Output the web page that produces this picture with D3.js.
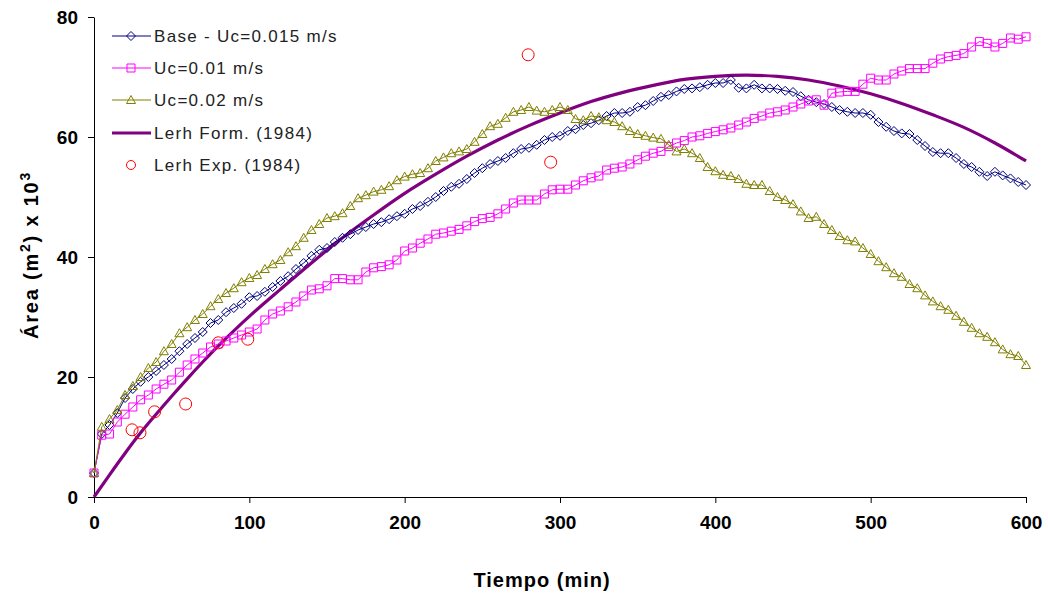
<!DOCTYPE html>
<html><head><meta charset="utf-8">
<script src="https://cdn.jsdelivr.net/npm/d3@7"></script>
<style>
html,body{margin:0;padding:0;background:#fff;}
svg{display:block;font-family:"Liberation Sans",Arial,sans-serif;}
</style></head>
<body><svg id="c" width="1048" height="596"></svg>
<script>
// Sampling times (min)
const tiempo = [0,5,10,15,20,25,30,35,40,45,50,55,60,65,70,75,80,85,90,95,
100,105,110,115,120,125,130,135,140,145,150,155,160,165,170,175,180,185,190,195,
200,205,210,215,220,225,230,235,240,245,250,255,260,265,270,275,280,285,290,295,
300,305,310,315,320,325,330,335,340,345,350,355,360,365,370,375,380,385,390,395,
400,405,410,415,420,425,430,435,440,445,450,455,460,465,470,475,480,485,490,495,
500,505,510,515,520,525,530,535,540,545,550,555,560,565,570,575,580,585,590,595,600];

const base015 = [4,10.5,12,14,16.5,18,19.2,20,21,22,23,24.3,25.5,26.5,27.5,29,29.5,30.8,31.5,32.2,
33.3,33.5,34.2,35,36,36.8,38,39,40.2,41.2,41.5,42.5,43.2,43.8,44.5,45,45.5,45.8,46.3,46.8,
47.2,48,48.5,49.2,50,51,51.7,52.2,53,54,54.8,55.5,56,56.5,57.3,58,58.2,58.7,59.5,60,
60.2,61,61.3,62,62.3,62.8,63.5,64,64,64.2,65,65.3,66,66.7,67,67.6,68,68.1,68.3,68.7,
69,69,69.5,68.2,68.1,68.7,68.1,68.1,68,67.7,67.5,66.8,66.2,65.8,65.5,65,64.5,64.2,64,64,
63.7,62.5,61.7,61,60.6,60.5,59.5,58.5,57.5,57.3,57.3,56.5,55.5,55,54.2,53.5,54.2,53.6,53.1,52.5,52];

const uc001 = [4,10.3,10.5,12.5,13.8,15,16.2,17,18,18.8,19.5,20.8,22,23,24,25,25.5,26,26.5,27,
27.5,28,29.5,30.5,31,31.7,32.5,33.5,34.5,34.7,35.2,36.4,36.4,36.2,36.2,37.5,38.2,38.4,38.7,39.5,
41,41.5,42.3,43,43.8,44,44.3,44.6,45.2,45.9,46.4,46.6,47.2,48,49,49.5,49.5,49.5,50.5,51.2,
51.3,51.3,52,52.7,53.2,53.5,54.5,54.8,55,55.5,56.2,56.8,57.3,57.6,58.4,59,59.4,60,60.2,60.6,
60.9,61.2,61.5,62,62.5,63.1,63.5,64,64.2,64.5,65,65.5,66,66.2,65.3,67.3,67.5,67.6,67.6,68.8,
69.8,69.5,69.5,70.5,71,71.4,71.4,71.4,72.3,73,73.4,73.6,73.9,75,75.9,75.6,75,75.6,76.5,76.3,76.7];

const uc002 = [4,11.7,13,14.5,17,18.5,20,21.5,22.5,24.3,25.5,27.3,28.3,29.5,30.5,31.8,33,34,34.8,35.8,
36.5,37,38,38.8,39.5,40.8,41.8,43.2,44.5,45.5,46.5,46.8,47.3,48.5,49.8,50.3,50.9,51.2,51.8,52.8,
53.4,53.8,54,54.8,56,56.6,57.3,57.6,58,59.2,60.5,61.8,62.2,63.2,64.2,64.5,65,64.4,64.2,64.5,
65,64.5,63,62.8,63.5,63.3,62.8,62.5,61.8,61,60.5,60.2,59.9,59.7,58.7,57.6,58,57.3,56.5,55,
54.3,53.7,53.5,53,52.2,52,52,51,50,49.5,48.8,47.6,46.5,46.7,45.5,44.5,43.5,42.8,42.6,41.5,
40.5,39.3,38.3,37.3,36.7,35.5,34.8,33.6,32.6,31.8,31.2,30.2,29.2,28.2,27.3,26.7,25.8,24.6,23.8,23.5,22];

const lerhFormT = [0,10,20,30,40,50,60,70,80,90,100,120,140,160,180,200,220,240,260,280,300,320,340,360,380,400,420,440,460,480,500,520,540,560,580,600];
const lerhFormV = [0,3.7,7.3,10.7,13.8,16.8,19.7,22.5,25.2,27.7,30.1,34.6,39,43.2,47,50.6,53.8,56.8,59.5,61.9,64,65.9,67.4,68.6,69.6,70.1,70.3,70.1,69.5,68.5,67.2,65.6,63.7,61.6,59,56];

const lerhExpT = [24.5,29.6,39,59,80,99,279.5,294];
const lerhExpV = [11.2,10.7,14.2,15.5,25.7,26.3,73.7,55.8];

const xTicks = [0,100,200,300,400,500,600];
const yTicks = [0,20,40,60,80];
const legendLabels = ["Base - Uc=0.015 m/s","Uc=0.01 m/s","Uc=0.02 m/s","Lerh Form. (1984)","Lerh Exp. (1984)"];

const svg = d3.select("#c");
svg.append("rect").attr("width",1048).attr("height",596).attr("fill","#fff");

const x = d3.scaleLinear().domain([0,600]).range([94,1026]);
const y = d3.scaleLinear().domain([0,80]).range([497,17]);

// axes
const gy = svg.append("g").attr("transform","translate(94,0)")
  .call(d3.axisLeft(y).tickValues(yTicks).tickSize(6).tickSizeOuter(0).tickPadding(10));
const gx = svg.append("g").attr("transform","translate(0,497)")
  .call(d3.axisBottom(x).tickValues(xTicks).tickSize(6).tickSizeOuter(0).tickPadding(13));
[gx,gy].forEach(g=>{
  g.selectAll("path,line").attr("stroke","#000").attr("stroke-width",1);
  g.selectAll("text").attr("font-family","Liberation Sans, Arial, sans-serif")
    .attr("font-size",19).attr("font-weight","bold").attr("fill","#000");
});

// titles
svg.append("text").attr("x",542).attr("y",587).attr("text-anchor","middle")
  .attr("font-size",20).attr("letter-spacing",1).attr("font-weight","bold").text("Tiempo (min)");
const yt = svg.append("text").attr("transform","translate(38,255) rotate(-90)")
  .attr("text-anchor","middle").attr("font-size",20).attr("letter-spacing",1.8).attr("font-weight","bold");
yt.append("tspan").text("Área (m");
yt.append("tspan").attr("dy",-8).attr("font-size",14).text("2");
yt.append("tspan").attr("dy",8).text(") x 10");
yt.append("tspan").attr("dy",-8).attr("font-size",14).text("3");

const plot = svg.append("g");

// Lerh formula
const lerh = lerhFormT.map((t,i)=>[t,lerhFormV[i]]);
plot.append("path").datum(lerh)
  .attr("d",d3.line().x(d=>x(d[0])).y(d=>y(d[1])).curve(d3.curveMonotoneX))
  .attr("fill","none").attr("stroke","#800080").attr("stroke-width",3.2);

const series = [
  {vals:base015, color:"#000080", sym:"diamond"},
  {vals:uc001, color:"#FF00FF", sym:"square"},
  {vals:uc002, color:"#808000", sym:"triangle"}
];
function symPath(sym){
  if(sym==="diamond") return "M0,-4.5L4.5,0L0,4.5L-4.5,0Z";
  if(sym==="square") return "M-4,-4H4V4H-4Z";
  return "M0,-4.5L4.5,3.5H-4.5Z";
}
series.forEach(s=>{
  const pts = tiempo.map((t,i)=>[t,s.vals[i]]);
  plot.append("path").datum(pts)
    .attr("d",d3.line().x(d=>x(d[0])).y(d=>y(d[1])))
    .attr("fill","none").attr("stroke",s.color).attr("stroke-width",1);
  plot.append("g").selectAll("path").data(pts).join("path")
    .attr("transform",d=>`translate(${x(d[0])},${y(d[1])})`)
    .attr("d",symPath(s.sym)).attr("fill","none").attr("stroke",s.color).attr("stroke-width",1);
});

// Lerh experimental
plot.append("g").selectAll("circle").data(lerhExpT.map((t,i)=>[t,lerhExpV[i]])).join("circle")
  .attr("cx",d=>x(d[0])).attr("cy",d=>y(d[1])).attr("r",6)
  .attr("fill","none").attr("stroke","#FF0000").attr("stroke-width",1);

// legend
const legY = [36,68,100,133,165];
const leg = svg.append("g");
const legItems = [
  {color:"#000080", sym:"diamond", line:1},
  {color:"#FF00FF", sym:"square", line:1},
  {color:"#808000", sym:"triangle", line:1},
  {color:"#800080", sym:null, line:3.2},
  {color:"#FF0000", sym:"circle", line:0}
];
legItems.forEach((it,i)=>{
  const g = leg.append("g").attr("transform",`translate(0,${legY[i]})`);
  if(it.line) g.append("line").attr("x1",112).attr("x2",151).attr("y1",0).attr("y2",0)
    .attr("stroke",it.color).attr("stroke-width",it.line);
  if(it.sym==="circle") g.append("circle").attr("cx",131).attr("cy",0).attr("r",4.5)
    .attr("fill","none").attr("stroke",it.color);
  else if(it.sym) g.append("path").attr("transform","translate(131,0)").attr("d",symPath(it.sym))
    .attr("fill","none").attr("stroke",it.color);
  g.append("text").attr("x",154).attr("y",6).attr("font-size",17).attr("letter-spacing",1.3)
    .attr("fill","#222").text(legendLabels[i]);
});
</script></body></html>
